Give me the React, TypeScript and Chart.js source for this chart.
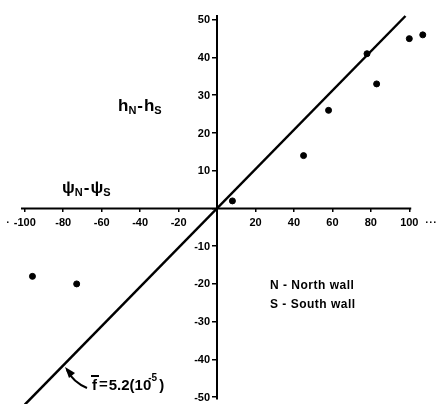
import React, { useEffect, useRef } from "react";
import { Chart, registerables } from "chart.js";

Chart.register(...registerables);

// observations listed in order of rising y
const obsX = [-73, -96, 8, 45, 58, 83, 78, 100, 107];
const obsY = [-20, -18, 2, 14, 26, 33, 41, 45, 46];
const fitX = [-100, 98];
const fitY = [-52, 51];
const xTicks = [-100, -80, -60, -40, -20, 0, 20, 40, 60, 80, 100];
const yTicks = [-50, -40, -30, -20, -10, 0, 10, 20, 30, 40, 50];
const xAxisEnd = 101;
const legendLines = ["N - North wall", "S - South wall"];
const slopeLabel = "5.2(10";
const slopeExp = "-5";

const FONT = "'Liberation Sans', Arial, sans-serif";

const annotations = {
  id: "annotations",
  afterDraw(chart: any) {
    const ctx = chart.ctx as CanvasRenderingContext2D;
    const xs = chart.scales.x;
    const ys = chart.scales.y;
    const axisX = xs.getPixelForValue(0);
    const axisY = ys.getPixelForValue(0);
    ctx.save();
    ctx.fillStyle = "#000";
    ctx.strokeStyle = "#000";

    // x axis line (solid part) and dotted continuations
    ctx.lineWidth = 2;
    ctx.beginPath();
    ctx.moveTo(chart.chartArea.left + 2, axisY);
    ctx.lineTo(xs.getPixelForValue(xAxisEnd), axisY);
    ctx.stroke();
    [7, 426, 430, 434].forEach((px) => {
      ctx.fillRect(px, axisY + 13, 1.5, 1.5);
    });

    // y tick labels, placed left of the tick marks
    ctx.font = `bold 11px ${FONT}`;
    ctx.textAlign = "right";
    ctx.textBaseline = "middle";
    yTicks.forEach((v) => {
      if (v === 0) return;
      ctx.fillText(String(v), axisX - 7, ys.getPixelForValue(v) + 0.5);
    });
    ctx.textAlign = "left";
    ctx.textBaseline = "alphabetic";

    const drawSubPair = (x: number, y: number, main: string, sub1: string, sub2: string) => {
      ctx.font = `bold 17px ${FONT}`;
      ctx.fillText(main, x, y);
      x += ctx.measureText(main).width;
      ctx.font = `bold 11px ${FONT}`;
      ctx.fillText(sub1, x, y + 3);
      x += ctx.measureText(sub1).width + 1;
      ctx.font = `bold 17px ${FONT}`;
      ctx.fillText("-", x, y);
      x += ctx.measureText("-").width + 1;
      ctx.fillText(main, x, y);
      x += ctx.measureText(main).width;
      ctx.font = `bold 11px ${FONT}`;
      ctx.fillText(sub2, x, y + 3);
    };
    drawSubPair(118, 111, "h", "N", "S");
    drawSubPair(62, 193, "\u03c8", "N", "S");

    // legend text
    ctx.font = `bold 12px ${FONT}`;
    (ctx as any).letterSpacing = "0.5px";
    ctx.fillText(legendLines[0], 270, 289);
    ctx.fillText(legendLines[1], 270, 308);
    (ctx as any).letterSpacing = "0px";

    // slope label
    let x = 92;
    const y = 390;
    ctx.font = `bold 15px ${FONT}`;
    ctx.fillText("f", x, y);
    ctx.fillRect(x - 1, y - 15, 8, 2);
    x += ctx.measureText("f").width + 2;
    ctx.fillText("=", x, y - 1);
    x += ctx.measureText("=").width + 1;
    ctx.fillText(slopeLabel, x, y);
    x += ctx.measureText(slopeLabel).width;
    ctx.font = `bold 10px ${FONT}`;
    ctx.fillText(slopeExp, x - 3, y - 9);
    x += ctx.measureText(slopeExp).width - 1;
    ctx.font = `bold 15px ${FONT}`;
    ctx.fillText(")", x, y);

    // curved arrow
    ctx.lineWidth = 2;
    ctx.beginPath();
    ctx.moveTo(87, 388);
    ctx.quadraticCurveTo(73, 382, 67, 370);
    ctx.stroke();
    ctx.beginPath();
    ctx.moveTo(65, 367);
    ctx.lineTo(75, 373);
    ctx.lineTo(69, 378);
    ctx.closePath();
    ctx.fill();

    ctx.restore();
  },
};

export default function App() {
  const ref = useRef<HTMLCanvasElement>(null);
  useEffect(() => {
    if (!ref.current) return;
    const tickFont = { family: FONT, weight: "bold" as const, size: 11 };
    const zeroPad = (s: any) => {
      s.paddingLeft = 0;
      s.paddingRight = 0;
      s.paddingTop = 0;
      s.paddingBottom = 0;
    };
    const chart = new Chart(ref.current, {
      type: "scatter",
      data: {
        datasets: [
          {
            data: fitX.map((v, i) => ({ x: v, y: fitY[i] })),
            showLine: true,
            borderColor: "#000",
            borderWidth: 2.5,
            pointRadius: 0,
            clip: false as any,
          },
          {
            data: obsX.map((v, i) => ({ x: v, y: obsY[i] })),
            backgroundColor: "#000",
            borderColor: "#000",
            pointRadius: 3,
            clip: false as any,
          },
        ],
      },
      options: {
        animation: false,
        responsive: false,
        devicePixelRatio: 1,
        layout: { padding: { left: 19, right: 0, top: 16, bottom: 2 } },
        plugins: { legend: { display: false }, tooltip: { enabled: false } },
        scales: {
          x: {
            type: "linear",
            min: -103,
            max: 111.8,
            position: { y: 0 } as any,
            afterBuildTicks: (s: any) => {
              s.ticks = xTicks.map((v) => ({ value: v }));
            },
            afterFit: zeroPad,
            grid: { drawOnChartArea: false, color: "#000", tickLength: 4, lineWidth: 1.5 },
            border: { display: false },
            ticks: {
              autoSkip: false,
              maxRotation: 0,
              padding: 4,
              color: "#000",
              font: tickFont,
              callback: (v: any) => (v === 0 ? "" : String(v)),
            },
          },
          y: {
            type: "linear",
            min: -50.5,
            max: 51,
            position: { x: 0 } as any,
            afterBuildTicks: (s: any) => {
              s.ticks = yTicks.map((v) => ({ value: v }));
            },
            afterFit: zeroPad,
            grid: { drawOnChartArea: false, color: "#000", tickLength: 4, lineWidth: 1.5 },
            border: { color: "#000", width: 2 },
            ticks: { display: false },
          },
        },
      },
      plugins: [annotations],
    });
    return () => chart.destroy();
  }, []);
  return (
    <div style={{ position: "fixed", left: 0, top: 0, width: 437, height: 404, background: "#fff" }}>
      <canvas ref={ref} width={437} height={404} style={{ display: "block" }} />
    </div>
  );
}
